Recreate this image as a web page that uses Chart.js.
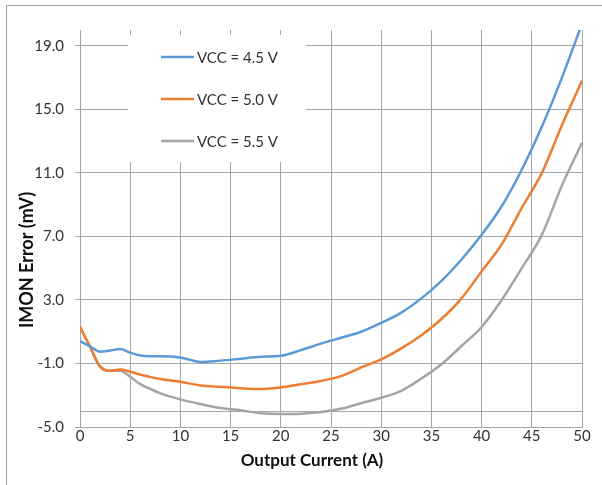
<!DOCTYPE html>
<html>
<head>
<meta charset="utf-8">
<script src="https://cdn.jsdelivr.net/npm/chart.js@4.4.1/dist/chart.umd.min.js"></script>
<style>
  body { margin: 0; background: #fff; overflow: hidden; }
  #wrap { position: relative; width: 602px; height: 485px; }
</style>
</head>
<body>
<div id="wrap"><canvas id="imonchart" width="602" height="485"></canvas></div>
<script>
// output current (A)
const currents = [0, 1, 2, 3, 4, 5, 6, 7, 8, 10, 12, 14, 16, 18, 20, 22, 24, 26, 28, 30, 32, 34, 36, 38, 40, 42, 44, 46, 48, 50];

// IMON error (mV) per VCC
const vcc45 = [0.41, 0.08, -0.26, -0.18, -0.09, -0.32, -0.5, -0.54, -0.54, -0.62, -0.9, -0.82, -0.7, -0.58, -0.52, -0.16, 0.25, 0.62, 1.0, 1.55, 2.2, 3.1, 4.2, 5.55, 7.1, 8.9, 11.2, 13.9, 17.0, 20.4];
const vcc50 = [1.31, 0.05, -1.2, -1.46, -1.38, -1.52, -1.7, -1.85, -1.98, -2.15, -2.38, -2.47, -2.56, -2.61, -2.5, -2.31, -2.1, -1.8, -1.25, -0.74, -0.05, 0.78, 1.8, 3.1, 4.8, 6.5, 8.8, 11.0, 14.0, 16.8];
const vcc55 = [1.31, 0.05, -1.2, -1.46, -1.46, -1.84, -2.3, -2.6, -2.88, -3.26, -3.55, -3.8, -3.95, -4.14, -4.18, -4.16, -4.05, -3.85, -3.5, -3.16, -2.72, -1.95, -1.05, 0.1, 1.3, 3.0, 5.0, 7.1, 10.2, 12.9];

const seriesLabels = ['VCC = 4.5 V', 'VCC = 5.0 V', 'VCC = 5.5 V'];
const seriesColors = ['#5b9bd5', '#ed7d31', '#a5a5a5'];

const yTicks = [-5, -1, 3, 7, 11, 15, 19];
const crossLine = -4;

function toPoints(vals) {
    return currents.map((c, i) => ({x: c, y: vals[i]}));
}

const gridColor = '#a6a6a6';
const textColor = '#333333';

// frame, legend box, extra line and axis titles
const decor = {
    id: 'decor',
    beforeDraw(chart) {
        const c = chart.ctx;
        c.save();
        c.strokeStyle = '#a0a0a0';
        c.lineWidth = 1;
        c.strokeRect(6.5, 5.5, 700, 600);
        c.restore();
    },
    beforeDatasetsDraw(chart) {
        const c = chart.ctx;
        const area = chart.chartArea;
        const y = chart.scales.y;
        c.save();
        // line at -4
        const py = Math.round(y.getPixelForValue(crossLine)) + 0.5;
        c.strokeStyle = gridColor;
        c.lineWidth = 1;
        c.beginPath();
        c.moveTo(area.left, py);
        c.lineTo(area.right, py);
        c.stroke();

        // legend box
        c.fillStyle = '#ffffff';
        c.fillRect(128, 35, 178, 127);
        c.font = '15px Lato';
        c.textBaseline = 'middle';
        const rows = [57, 99, 141];
        chart.data.datasets.forEach((ds, i) => {
            c.strokeStyle = ds.borderColor;
            c.lineWidth = 2.5;
            c.beginPath();
            c.moveTo(161, rows[i]);
            c.lineTo(194, rows[i]);
            c.stroke();
            c.fillStyle = textColor;
            c.fillText(ds.label, 197, rows[i] + 1);
        });

        // axis titles
        c.fillStyle = '#111';
        c.font = 'bold 17px Lato';
        c.textAlign = 'center';
        c.textBaseline = 'middle';
        c.fillText('Output Current (A)', 312, 461);
        c.translate(27, 260);
        c.rotate(-Math.PI / 2);
        c.font = 'bold 18px Lato';
        c.fillText('IMON Error (mV)', 0, 0);
        c.restore();
    }
};

const ctx = document.getElementById('imonchart');

const myChart = new Chart(ctx, {
    type: 'line',
    data: {
        datasets: [vcc45, vcc50, vcc55].map((vals, i) => ({
            label: seriesLabels[i],
            data: toPoints(vals),
            borderColor: seriesColors[i],
            borderWidth: 2.5,
            pointRadius: 0,
            fill: false,
            cubicInterpolationMode: 'monotone'
        }))
    },
    options: {
        responsive: false,
        animation: false,
        layout: {
            padding: {left: 0, right: 20, top: 30, bottom: 0}
        },
        plugins: {
            legend: {display: false},
            tooltip: {enabled: false}
        },
        scales: {
            x: {
                type: 'linear',
                min: 0,
                max: 50,
                afterFit(scale) { scale.height = 58; },
                ticks: {
                    stepSize: 5,
                    padding: 0,
                    color: textColor,
                    font: {family: 'Lato', size: 15}
                },
                grid: {color: gridColor, drawTicks: false},
                border: {color: gridColor}
            },
            y: {
                type: 'linear',
                min: -5,
                max: 20,
                afterFit(scale) { scale.width = 80; },
                afterBuildTicks(scale) {
                    scale.ticks = yTicks.map(v => ({value: v}));
                },
                ticks: {
                    padding: 11,
                    color: textColor,
                    font: {family: 'Lato', size: 15},
                    callback: v => v.toFixed(1)
                },
                grid: {color: gridColor, tickLength: 5},
                border: {color: gridColor}
            }
        }
    },
    plugins: [decor]
});
</script>
</body>
</html>
